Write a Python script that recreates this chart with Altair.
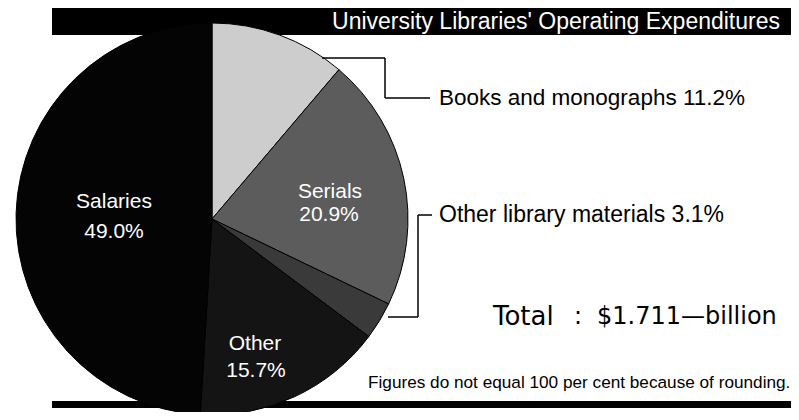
import altair as alt
import pandas as pd

# ---- data ----
categories = ["Books and monographs", "Serials", "Other library materials", "Other", "Salaries"]
shares = [11.2, 20.9, 3.1, 15.7, 49.0]
share_labels = ["11.2%", "20.9%", "3.1%", "15.7%", "49.0%"]
inside_names = ["Salaries", "Serials", "Other"]
title_text = "University Libraries' Operating Expenditures"
total_word = "Total"
total_value = "$1.711\u2014billion"
footnote = "Figures do not equal 100 per cent because of rounding."

slice_colors = ["#cdcdcd", "#5c5c5c", "#3a3a3a", "#141414", "#040404"]

df = pd.DataFrame({"category": categories, "share": shares, "order": list(range(len(categories)))})
one = pd.DataFrame({"k": [0]})

W, H = 783, 404
CX, CY, R = 204, 211, 196
FONT = "Liberation Sans"

# title band and bottom rule
band = alt.Chart(one).mark_rect(color="#000").encode(
    x=alt.value(44), x2=alt.value(W), y=alt.value(-3), y2=alt.value(27))
bottom = alt.Chart(one).mark_rect(color="#000").encode(
    x=alt.value(44), x2=alt.value(W), y=alt.value(393), y2=alt.value(400))

pie = alt.Chart(df).mark_arc(radius=R, stroke="#000", strokeWidth=1).encode(
    theta=alt.Theta("share:Q", stack=True),
    order=alt.Order("order:Q"),
    color=alt.Color("category:N", scale=alt.Scale(domain=categories, range=slice_colors), legend=None),
    x=alt.value(CX), y=alt.value(CY),
)

def txt(s, x, y, size, color="#000", align="left", font=FONT):
    return alt.Chart(one).mark_text(
        align=align, baseline="middle", font=font, fontSize=size, color=color,
    ).encode(x=alt.value(x), y=alt.value(y), text=alt.value(s))

def rule(x1, y1, x2, y2):
    return alt.Chart(one).mark_rule(color="#000", strokeWidth=1.5).encode(
        x=alt.value(x1), y=alt.value(y1), x2=alt.value(x2), y2=alt.value(y2))

layers = [band, bottom, pie]

# labels inside the pie
layers += [
    txt(inside_names[0], 106, 194, 21, "#fff", "center"),
    txt(share_labels[4], 106, 224, 21, "#fff", "center"),
    txt(inside_names[1], 322, 184, 21, "#fff", "center"),
    txt(share_labels[1], 321, 207, 21, "#fff", "center"),
    txt(inside_names[2], 247, 336, 21, "#fff", "center"),
    txt(share_labels[3], 248, 363, 21, "#fff", "center"),
]

# title
layers.append(txt(title_text, 772, 14, 23, "#fff", "right"))

# leader for books
layers += [rule(314, 50, 377, 50), rule(377, 50, 377, 90), rule(377, 90, 422, 90)]
layers.append(txt(f"{categories[0]} {share_labels[0]}", 431, 90, 22.5))

# leader for other library materials
layers += [rule(380, 309, 410, 309), rule(410, 309, 410, 207), rule(410, 207, 424, 207)]
layers.append(txt(f"{categories[2]} {share_labels[2]}", 431, 207, 23))

# total
layers += [
    txt(total_word, 485, 309, 26, font="DejaVu Sans"),
    txt(":", 566, 309, 24, font="DejaVu Sans"),
    txt(total_value, 589, 309, 24, font="DejaVu Sans"),
]

# footnote
layers.append(txt(footnote, 360, 375, 17.2))

chart = alt.layer(*layers).properties(
    width=W, height=H, padding=0, autosize=alt.AutoSizeParams(type="none")
).configure_view(stroke=None)

chart.save("out.html", embed_options={"renderer": "svg", "actions": False})
